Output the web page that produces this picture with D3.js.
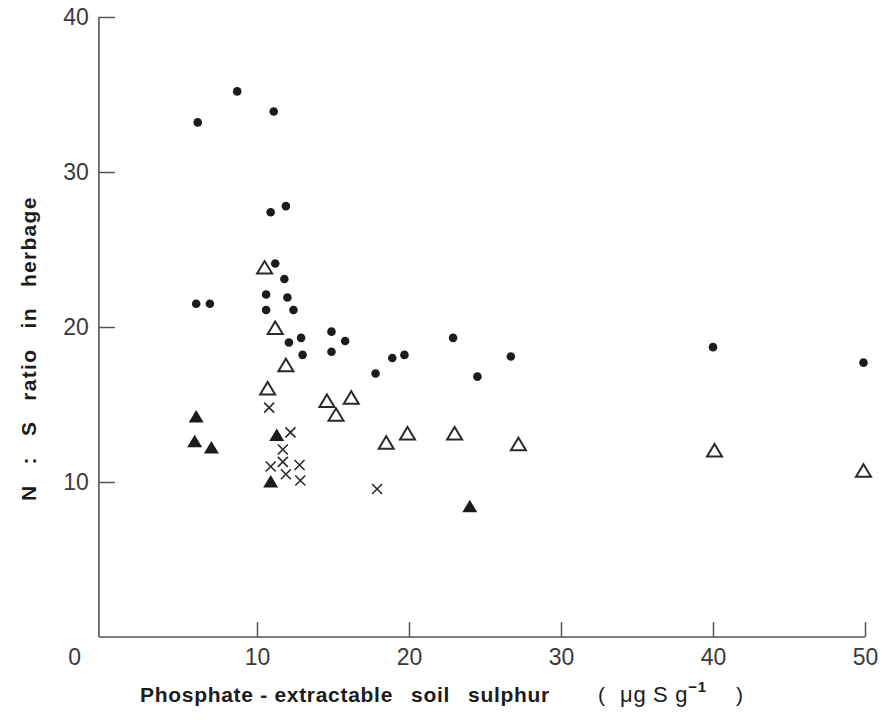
<!DOCTYPE html>
<html>
<head>
<meta charset="utf-8">
<script src="https://cdn.jsdelivr.net/npm/d3@7"></script>
<style>
  body { margin: 0; background: #fff; }
  svg { display: block; }
</style>
</head>
<body>
<div id="viz"></div>
<script>
// [soil S, N:S ratio]
var dots = [
  [6.1, 33.2], [8.7, 35.2], [11.1, 33.9], [10.9, 27.4], [11.9, 27.8],
  [11.2, 24.1], [11.8, 23.1], [10.6, 22.1], [12.0, 21.9], [10.6, 21.1],
  [12.4, 21.1], [6.0, 21.5], [6.9, 21.5], [12.1, 19.0], [12.9, 19.3],
  [13.0, 18.2], [14.9, 19.7], [15.8, 19.1], [14.9, 18.4], [18.9, 18.0],
  [19.7, 18.2], [17.8, 17.0], [22.9, 19.3], [26.7, 18.1], [24.5, 16.8],
  [40.0, 18.7], [49.9, 17.7]
];
var openTri = [
  [10.5, 23.8], [11.2, 19.9], [11.9, 17.5], [10.7, 16.0], [14.6, 15.2],
  [16.2, 15.4], [15.2, 14.3], [18.5, 12.5], [19.9, 13.1], [23.0, 13.1],
  [27.2, 12.4], [40.1, 12.0], [49.9, 10.7]
];
var filledTri = [
  [6.0, 14.2], [5.9, 12.6], [7.0, 12.2], [11.3, 13.0], [10.9, 10.0], [24.0, 8.4]
];
var crosses = [
  [10.8, 14.8], [12.2, 13.2], [11.7, 12.1], [11.7, 11.3], [12.8, 11.1],
  [10.9, 11.0], [11.9, 10.5], [12.85, 10.1], [17.9, 9.55]
];
var xTicks = [10, 20, 30, 40, 50];
var yTicks = [10, 20, 30, 40];

var width = 883, height = 724;

var x = d3.scaleLinear().domain([0, 50]).range([105, 865]);
var y = d3.scaleLinear().domain([0, 40]).range([637, 17]);

var svg = d3.select('#viz').append('svg')
  .attr('width', width)
  .attr('height', height);

var ink = '#1c1c1c';
var font = 'Liberation Sans, Arial, sans-serif';

// axes
var xAxis = svg.append('g')
  .attr('transform', 'translate(0,' + y(0) + ')')
  .call(d3.axisBottom(x).tickValues(xTicks).tickSize(-15).tickSizeOuter(0).tickPadding(12));
var yAxis = svg.append('g')
  .attr('transform', 'translate(' + x(-0.4) + ',0)')
  .call(d3.axisLeft(y).tickValues(yTicks).tickSize(-16).tickSizeOuter(0).tickPadding(10));

[xAxis, yAxis].forEach(function(g) {
  g.select('.domain').remove();
  g.selectAll('line').attr('stroke', '#555').attr('stroke-width', 1.5);
  g.selectAll('text')
    .attr('fill', '#3a3a3a')
    .style('font-family', font)
    .style('font-size', '23px');
});

svg.append('line')
  .attr('x1', x(-0.4)).attr('x2', x(50))
  .attr('y1', y(0)).attr('y2', y(0))
  .attr('stroke', '#555').attr('stroke-width', 1.6);
svg.append('line')
  .attr('x1', x(-0.4)).attr('x2', x(-0.4))
  .attr('y1', y(0)).attr('y2', y(40))
  .attr('stroke', '#555').attr('stroke-width', 1.6);

// origin label
svg.append('text')
  .attr('x', x(-2)).attr('y', y(0) + 12)
  .attr('dy', '0.71em')
  .attr('text-anchor', 'middle')
  .attr('fill', '#3a3a3a')
  .style('font-family', font)
  .style('font-size', '23px')
  .text('0');

// x title, laid out word by word like the original lettering
var xt = svg.append('text')
  .attr('y', 702)
  .attr('fill', ink)
  .style('font-family', font)
  .style('font-size', '21px')
  .style('font-weight', 'bold')
  .style('letter-spacing', '0.7px');
xt.append('tspan').attr('x', 140).text('Phosphate - extractable');
xt.append('tspan').attr('x', 411).text('soil');
xt.append('tspan').attr('x', 468).text('sulphur');
xt.append('tspan').attr('x', 598).style('font-weight', 'normal').text('(');
xt.append('tspan').attr('x', 620).style('font-weight', 'normal').style('font-size', '22px').text('μg S g');
xt.append('tspan').attr('dy', -10).style('font-size', '15px').text('−1');
xt.append('tspan').attr('x', 736).attr('dy', 10).style('font-weight', 'normal').text(')');

svg.append('text')
  .attr('transform', 'translate(36,' + y(18.6) + ') rotate(-90)')
  .attr('text-anchor', 'middle')
  .attr('fill', ink)
  .style('font-family', font)
  .style('font-size', '21px')
  .style('font-weight', 'bold')
  .style('word-spacing', '13px')
  .style('letter-spacing', '1.3px')
  .text('N : S ratio in herbage');

// markers
function tri(d) {
  var cx = x(d[0]), cy = y(d[1]);
  return 'M' + (cx - 7.5) + ',' + (cy + 5.5) + 'L' + (cx + 7.5) + ',' + (cy + 5.5) +
    'L' + cx + ',' + (cy - 7) + 'Z';
}

svg.append('g').selectAll('circle').data(dots)
  .enter().append('circle')
    .attr('cx', function(d) { return x(d[0]); })
    .attr('cy', function(d) { return y(d[1]); })
    .attr('r', 4.3)
    .attr('fill', ink);

svg.append('g').selectAll('path').data(openTri)
  .enter().append('path')
    .attr('d', tri)
    .attr('fill', 'none')
    .attr('stroke', '#2a2a2a')
    .attr('stroke-width', 2)
    .attr('stroke-linejoin', 'miter');

svg.append('g').selectAll('path').data(filledTri)
  .enter().append('path')
    .attr('d', tri)
    .attr('fill', ink);

svg.append('g').selectAll('path').data(crosses)
  .enter().append('path')
    .attr('d', function(d) {
      var cx = x(d[0]), cy = y(d[1]), s = 5;
      return 'M' + (cx - s) + ',' + (cy - s) + 'L' + (cx + s) + ',' + (cy + s) +
        'M' + (cx - s) + ',' + (cy + s) + 'L' + (cx + s) + ',' + (cy - s);
    })
    .attr('stroke', '#2a2a2a')
    .attr('stroke-width', 1.6);
</script>
</body>
</html>
